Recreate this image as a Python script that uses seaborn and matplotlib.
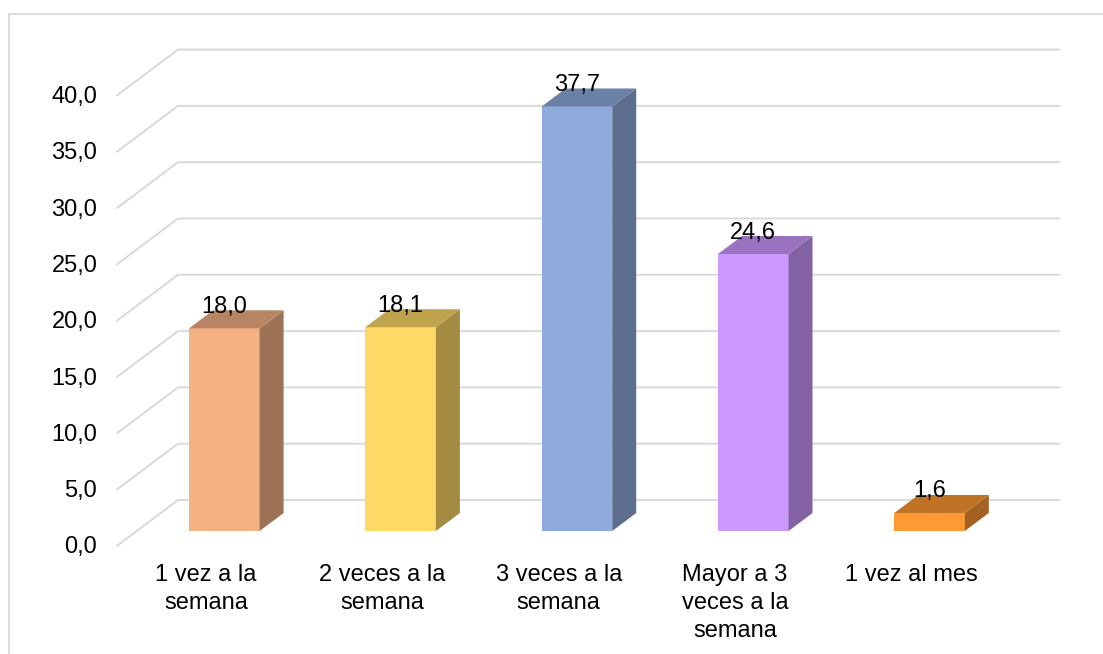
import matplotlib.pyplot as plt
import matplotlib.transforms as mtrans
import pandas as pd
import seaborn as sns
from matplotlib.lines import Line2D
from matplotlib.patches import Polygon

categories = ['1 vez a la\nsemana', '2 veces a la\nsemana', '3 veces a la\nsemana',
              'Mayor a 3\nveces a la\nsemana', '1 vez al mes']
values = [18.0, 18.1, 37.7, 24.6, 1.6]
colors = ['#F4B183', '#FFD966', '#8FAADC', '#CC99FF', '#FF9933']
y_ticks = [0, 5, 10, 15, 20, 25, 30, 35, 40]

W, H = 1103, 654
PX_X = 881.5 / 5      # pixels per category
PX_Y = 450.4 / 40     # pixels per value unit
GRID = '#D9D9D9'
FONT_SIZE = 17


def shade(color, factor):
    r, g, b = plt.matplotlib.colors.to_rgb(color)
    return (r * factor, g * factor, b * factor)


sns.set_theme(style='white')
plt.rcParams['font.family'] = ['Liberation Sans', 'DejaVu Sans']

fig = plt.figure(figsize=(W / 100, H / 100), dpi=100)
ax = fig.add_axes([136.2 / W, (H - 531) / H, 881.5 / W, 450.4 / H])
ax.patch.set_alpha(0)

df = pd.DataFrame({'cat': categories, 'val': values})
sns.barplot(data=df, x='cat', y='val', hue='cat', palette=colors, width=0.4,
            saturation=1, legend=False, ax=ax, zorder=3, linewidth=0)
ax.set_xlim(-0.5, 4.5)
ax.set_ylim(0, 40)
ax.set_xlabel('')
ax.set_ylabel('')
sns.despine(ax=ax, left=True, bottom=True)

# floor and back wall sit at fixed offsets from the plane of the bars
front_x, front_y = -19.2 / PX_X, -14.8 / PX_Y
back_x, back_y = 41.8 / PX_X, 31 / PX_Y
for v in y_ticks:
    ax.plot([-0.5 + front_x, -0.5 + back_x, 4.5 + back_x],
            [v + front_y, v + back_y, v + back_y],
            color=GRID, lw=1.4, clip_on=False, zorder=1, solid_joinstyle='miter')

# sides and tops of the bars
depth_x, depth_y = 24 / PX_X, 18 / PX_Y
label_drop = 2.5 / PX_Y
for bar, val in zip(ax.patches, values):
    x0, x1 = bar.get_x(), bar.get_x() + bar.get_width()
    col = bar.get_facecolor()
    ax.add_patch(Polygon([(x1, 0), (x1 + depth_x, depth_y), (x1 + depth_x, val + depth_y), (x1, val)],
                         facecolor=shade(col, 0.64), edgecolor='none', clip_on=False, zorder=3))
    ax.add_patch(Polygon([(x0, val), (x0 + depth_x, val + depth_y), (x1 + depth_x, val + depth_y), (x1, val)],
                         facecolor=shade(col, 0.75), edgecolor='none', clip_on=False, zorder=3))
    ax.text((x0 + x1) / 2, val + depth_y - label_drop, f'{val:.1f}'.replace('.', ','),
            ha='center', va='baseline', fontsize=FONT_SIZE, color='#000000', zorder=4, clip_on=False)

ax.set_yticks(y_ticks)
ax.set_yticklabels([f'{v:.1f}'.replace('.', ',') for v in y_ticks])
ax.tick_params(axis='y', length=0, pad=28, labelsize=FONT_SIZE, labelcolor='#000000')
ax.tick_params(axis='x', length=0, pad=24, labelsize=FONT_SIZE, labelcolor='#000000')

# tick labels belong to the front edge of the floor, not the bar plane
y_shift = mtrans.ScaledTranslation(0, -14 / 100, fig.dpi_scale_trans)
for label in ax.get_yticklabels():
    label.set_transform(label.get_transform() + y_shift)
x_shift = mtrans.ScaledTranslation(-18.2 / 100, 0, fig.dpi_scale_trans)
for label in ax.get_xticklabels():
    label.set_transform(label.get_transform() + x_shift)
    label.set_linespacing(1.34)

# chart frame, cropped on the right and at the bottom
fig.add_artist(Line2D([8.5 / W, 8.5 / W, 1], [0, (H - 14) / H, (H - 14) / H], color=GRID, lw=1.4))

fig.savefig('out.png', dpi=100)
